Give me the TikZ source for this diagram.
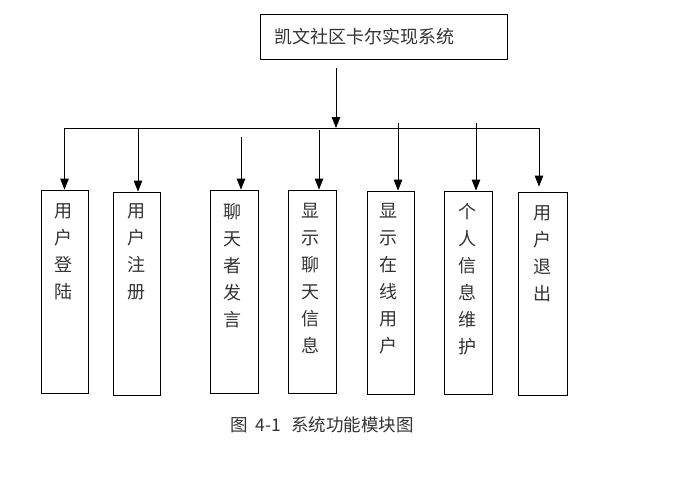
\documentclass[tikz,border=0pt]{standalone}
\usepackage{fontspec}
\newfontfamily\cjk{Noto Sans CJK SC}
\usetikzlibrary{arrows.meta,calc}
\begin{document}
\begin{tikzpicture}[x=1pt,y=-1pt,
  box/.style={draw, line width=0.8pt, minimum width=47pt, minimum height=203pt, inner sep=0pt},
  vtext/.style={anchor=north, inner sep=0pt, align=center, text=black!80, font=\cjk\fontsize{18}{27}\selectfont},
  arr/.style={line width=0.8pt, -{Triangle[length=11pt,width=8.5pt]}}]
\useasboundingbox (0,0) rectangle (678,477);
\fill[white] (0,0) rectangle (678,477);
% top box
\node[draw, line width=0.8pt, minimum width=247pt, minimum height=45pt, inner sep=0pt] (top) at (383.5,36.5) {};
\node[anchor=west, inner sep=0pt, text=black!80, font=\cjk\fontsize{18}{20}\selectfont] (title) at (274,36.5) {凯文社区卡尔实现系统};
% module boxes
\node[box] (b1) at (64.5,291.5) {};
\node[box] (b2) at (136.5,293.5) {};
\node[box, minimum width=48pt] (b3) at (234,291.5) {};
\node[box, minimum width=48pt] (b4) at (312,291.5) {};
\node[box] (b5) at (390.5,292.5) {};
\node[box, minimum width=48pt] (b6) at (468,292.5) {};
\node[box, minimum width=49pt] (b7) at (542.5,293.5) {};
% texts
\node[vtext] (t1) at (63,203) {用\\户\\登\\陆};
\node[vtext] (t2) at (136,203) {用\\户\\注\\册};
\node[vtext] (t3) at (232,203) {聊\\天\\者\\发\\言};
\node[vtext] (t4) at (310,203) {显\\示\\聊\\天\\信\\息};
\node[vtext] (t5) at (388,203) {显\\示\\在\\线\\用\\户};
\node[vtext] (t6) at (467,203) {个\\人\\信\\息\\维\\护};
\node[vtext] (t7) at (542,205) {用\\户\\退\\出};
% connectors
\coordinate (s0) at (336,68);
\coordinate (bus) at (336,128);
\draw[arr] (s0) -- (bus);
\draw[line width=0.8pt, {Triangle[length=11pt,width=8.5pt]}-{Triangle[length=11pt,width=8.5pt]}]
  (b1.north) -- (b1.north |- bus) -| ($(b7.north)+(-3.5,-5)$);
\coordinate (c2) at (138,128);
\coordinate (c3) at (241,137);
\coordinate (c4) at (319,130);
\coordinate (c5) at (398,123);
\coordinate (c6) at (476,123);
\draw[arr] (c2) -- (c2 |- b2.north);
\draw[arr] (c3) -- (c3 |- b3.north);
\draw[arr] (c4) -- (c4 |- b4.north);
\draw[arr] (c5) -- (c5 |- b5.north);
\draw[arr] (c6) -- (c6 |- b6.north);
% caption
\node[anchor=west, inner sep=0pt, text=black!80, font=\cjk\fontsize{17.5}{20}\selectfont] (cap) at (230,425) {图\hspace{8pt}4-1\hspace{10pt}系统功能模块图};
\end{tikzpicture}
\end{document}
